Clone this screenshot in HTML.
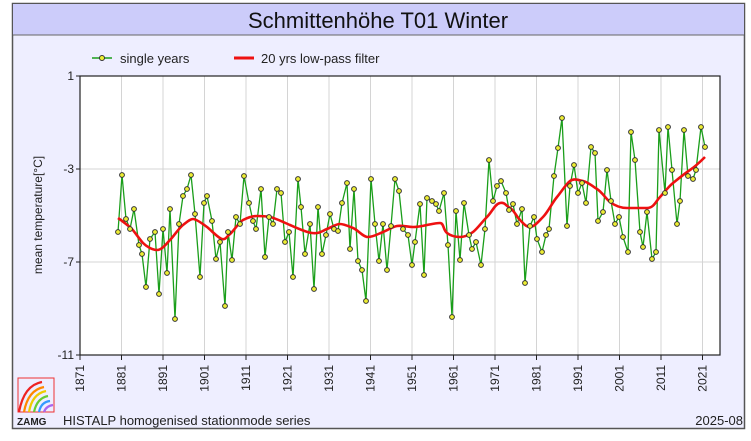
<!DOCTYPE html>
<html><head><meta charset="utf-8"><style>
body{margin:0;background:#fff;}
svg{display:block;font-family:"Liberation Sans",Arial,sans-serif;}
</style></head><body>
<svg width="751" height="441" viewBox="0 0 751 441" xmlns="http://www.w3.org/2000/svg">
<rect x="12.5" y="3.5" width="732" height="425" fill="#eeeeff" stroke="#555" stroke-width="1.5"/>
<rect x="13" y="4" width="731" height="31" fill="#ccccfa"/>
<line x1="13" y1="35" x2="744" y2="35" stroke="#666" stroke-width="1"/>
<text x="378" y="28" font-size="22" text-anchor="middle" fill="#111">Schmittenhöhe T01 Winter</text>
<!-- legend -->
<line x1="92" y1="58" x2="112" y2="58" stroke="#1a9e1a" stroke-width="1.5"/>
<circle cx="102" cy="58" r="2.5" fill="#eeee33" stroke="#333" stroke-width="1"/>
<text x="120" y="63" font-size="13" fill="#222">single years</text>
<line x1="234" y1="58" x2="254" y2="58" stroke="#ee1111" stroke-width="3"/>
<text x="261" y="63" font-size="13" fill="#222">20 yrs low-pass filter</text>
<!-- plot -->
<rect x="80" y="76" width="640" height="279" fill="#fff"/>
<g stroke="#d4d4d4" stroke-width="1">
<line x1="80" y1="169" x2="720" y2="169"/><line x1="80" y1="262" x2="720" y2="262"/>
<line x1="121.5" y1="76" x2="121.5" y2="355"/><line x1="163" y1="76" x2="163" y2="355"/>
<line x1="204.5" y1="76" x2="204.5" y2="355"/><line x1="246" y1="76" x2="246" y2="355"/>
<line x1="287.5" y1="76" x2="287.5" y2="355"/><line x1="329" y1="76" x2="329" y2="355"/>
<line x1="370.5" y1="76" x2="370.5" y2="355"/><line x1="412" y1="76" x2="412" y2="355"/>
<line x1="453.5" y1="76" x2="453.5" y2="355"/><line x1="495" y1="76" x2="495" y2="355"/>
<line x1="536.5" y1="76" x2="536.5" y2="355"/><line x1="578" y1="76" x2="578" y2="355"/>
<line x1="619.5" y1="76" x2="619.5" y2="355"/><line x1="661" y1="76" x2="661" y2="355"/>
<line x1="702.5" y1="76" x2="702.5" y2="355"/>
</g>
<rect x="80" y="76" width="640" height="279" fill="none" stroke="#222" stroke-width="1.2"/>
<!-- y ticks -->
<g stroke="#222" stroke-width="1">
<line x1="76" y1="76" x2="80" y2="76"/><line x1="76" y1="169" x2="80" y2="169"/><line x1="76" y1="262" x2="80" y2="262"/><line x1="76" y1="355" x2="80" y2="355"/>
</g>
<g font-size="12" fill="#222" text-anchor="end">
<text x="74" y="80">1</text><text x="74" y="173">-3</text><text x="74" y="266">-7</text><text x="74" y="359">-11</text>
</g>
<text transform="translate(42,215) rotate(-90)" font-size="12" fill="#222" text-anchor="middle">mean temperature[°C]</text>
<!-- x ticks -->
<g stroke="#222" stroke-width="1">
<line x1="80" y1="355" x2="80" y2="360"/><line x1="121.5" y1="355" x2="121.5" y2="360"/><line x1="163" y1="355" x2="163" y2="360"/><line x1="204.5" y1="355" x2="204.5" y2="360"/><line x1="246" y1="355" x2="246" y2="360"/><line x1="287.5" y1="355" x2="287.5" y2="360"/><line x1="329" y1="355" x2="329" y2="360"/><line x1="370.5" y1="355" x2="370.5" y2="360"/><line x1="412" y1="355" x2="412" y2="360"/><line x1="453.5" y1="355" x2="453.5" y2="360"/><line x1="495" y1="355" x2="495" y2="360"/><line x1="536.5" y1="355" x2="536.5" y2="360"/><line x1="578" y1="355" x2="578" y2="360"/><line x1="619.5" y1="355" x2="619.5" y2="360"/><line x1="661" y1="355" x2="661" y2="360"/><line x1="702.5" y1="355" x2="702.5" y2="360"/>
</g>
<g font-size="12" fill="#222" text-anchor="end">
<text transform="translate(84,365) rotate(-90)">1871</text>
<text transform="translate(125.5,365) rotate(-90)">1881</text>
<text transform="translate(167,365) rotate(-90)">1891</text>
<text transform="translate(208.5,365) rotate(-90)">1901</text>
<text transform="translate(250,365) rotate(-90)">1911</text>
<text transform="translate(291.5,365) rotate(-90)">1921</text>
<text transform="translate(333,365) rotate(-90)">1931</text>
<text transform="translate(374.5,365) rotate(-90)">1941</text>
<text transform="translate(416,365) rotate(-90)">1951</text>
<text transform="translate(457.5,365) rotate(-90)">1961</text>
<text transform="translate(499,365) rotate(-90)">1971</text>
<text transform="translate(540.5,365) rotate(-90)">1981</text>
<text transform="translate(582,365) rotate(-90)">1991</text>
<text transform="translate(623.5,365) rotate(-90)">2001</text>
<text transform="translate(665,365) rotate(-90)">2011</text>
<text transform="translate(706.5,365) rotate(-90)">2021</text>
</g>
<!-- data -->
<polyline id="d" fill="none" stroke="#1a9e1a" stroke-width="1.3" points="118,232 122,175 126,219 130,229 134,209 139,245 142,254 146,287 150,239 155,232 159,294 163,229 167,273 170,209 175,319 179,224 183,196 187,189 191,175 195,214 200,277 204,203 207,196 212,221 216,259 220,242 225,306 228,232 232,260 236,217 240,224 244,176 249,203 253,221 256,229 261,189 265,257 269,217 273,224 277,189 281,193 285,242 289,232 293,277 298,179 301,207 305,254 310,224 314,289 318,207 322,254 326,235 330,214 334,229 338,231 342,203 347,183 350,249 354,189 358,261 362,270 366,301 371,179 375,224 379,261 383,224 387,270 391,226 395,179 399,191 403,229 408,235 412,265 415,242 420,204 424,275 427,198 432,201 436,204 439,211 444,193 448,245 452,317 456,211 460,260 464,203 469,235 472,249 476,242 481,265 485,229 489,160 493,201 497,186 501,181 506,193 509,210 513,204 517,224 522,209 525,283 530,226 534,217 537,239 542,252 546,235 549,229 554,176 558,148 562,118 567,226 570,186 574,165 578,193 582,183 586,203 591,147 595,153 598,221 603,212 607,170 611,201 615,224 619,217 623,237 628,252 631,132 635,160 640,232 643,247 647,212 652,259 656,252 659,130 665,193 668,127 672,170 677,224 680,201 684,130 688,176 693,179 696,170 701,127 705,147"/>
<path fill="none" stroke="#ee1111" stroke-width="2.6" stroke-linejoin="round" d="M118,218 C124,222 128,226 130,227 S140,240 143,243 S152,250 157,250 S166,244 170,240 S179,228 183,225 S190,219 193,219 S203,224 207,227 S218,238 222,239 S227,236 230,234 S239,222 243,220 S252,216 257,216 S265,216 270,217 S283,222 290,225 S305,232 312,233 S322,231 327,229 S336,224 340,224 S348,226 353,228 S363,237 368,237 S378,234 383,232 S392,227 397,226 S407,227 413,227 S422,226 427,225 S436,223 440,223 S443,230 447,233 S455,237 460,237 S469,235 473,232 S482,222 487,217 S495,204 500,203 S506,206 510,208 S516,216 520,220 S526,227 530,227 S538,222 543,217 S552,203 557,197 S566,184 570,181 S578,180 583,181 S592,186 597,189 S606,199 610,202 S620,208 627,208 S640,208 647,208 S656,201 660,197 S668,187 673,183 S684,174 690,170 S700,162 705,157"/>
<g id="pts" fill="#eeee33" stroke="#333" stroke-width="1"></g>
<!-- footer -->
<rect x="18" y="378" width="36" height="34" fill="none" stroke="#e33" stroke-width="1"/>
<g fill="none" stroke-width="2.2">
<path d="M19,412 Q24,385 42,382" stroke="#e22"/>
<path d="M24,412 Q28,390 44,387" stroke="#f80"/>
<path d="M29,412 Q32,394 46,391" stroke="#ec0"/>
<path d="M34,412 Q37,398 48,396" stroke="#6c3"/>
<path d="M39,412 Q41,402 50,401" stroke="#39f"/>
<path d="M44,412 Q46,406 53,405" stroke="#a6e"/>
</g>
<text x="17" y="425" font-size="10" font-weight="bold" fill="#222">ZAMG</text>
<text x="63" y="425" font-size="13" fill="#222">HISTALP homogenised stationmode series</text>
<text x="743" y="425" font-size="13" fill="#222" text-anchor="end">2025-08</text>
</svg>
<script>
var p=document.getElementById('d').getAttribute('points').trim().split(/\s+/);
var g=document.getElementById('pts');var s='';
p.forEach(function(q){var a=q.split(',');s+='<circle cx="'+a[0]+'" cy="'+a[1]+'" r="2.4"/>';});
g.innerHTML=s;
</script>
</body></html>
